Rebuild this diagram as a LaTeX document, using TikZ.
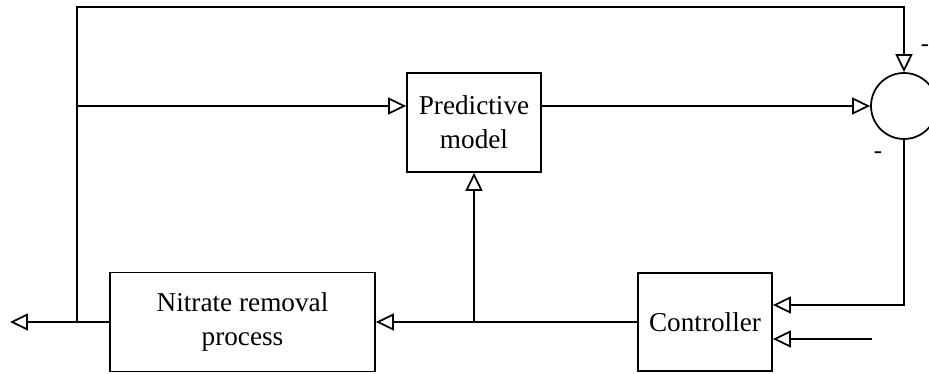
\documentclass[tikz,border=0pt]{standalone}
\usepackage{fontspec}
\setmainfont{Liberation Serif}
\usetikzlibrary{arrows.meta, positioning, calc}
\tikzset{
  block/.style={
    draw=black,
    line width=1pt,
    fill=white,
    align=center,
    inner sep=0pt,
    font=\fontsize{15.5}{19.5}\selectfont
  },
  sumnode/.style={
    draw=black,
    line width=1pt,
    circle,
    inner sep=0pt,
    minimum size=66*0.02cm
  },
  arrow/.style={-{Triangle[open, length=0.36cm, width=0.34cm, line width=1pt]}, line width=1pt, draw=black},
  line/.style={line width=1pt, draw=black},
  sign/.style={font=\fontsize{14}{16}\selectfont, inner sep=0pt}
}

\begin{document}
\begin{tikzpicture}[x=0.02cm,y=-0.02cm]
    \clip (0,0) rectangle (929,374);
    \node[block, minimum width=134*0.02cm, minimum height=99*0.02cm] (pred) at (474,122.5) {Predictive\\model};
    \node[block, minimum width=265*0.02cm, minimum height=99*0.02cm] (nitr) at (242.5,322) {Nitrate removal\\process};
    \node[block, minimum width=134*0.02cm, minimum height=98*0.02cm] (ctrl) at (705,322) {Controller};
    \node[sumnode] (sum) at (904,106) {};

    \coordinate (out) at (10,322);
    \coordinate (split) at (77,322);
    \coordinate (top) at (77,7);
    \coordinate (mid) at (77,106);
    \coordinate (fb) at (904,305);
    \coordinate (ref) at (872,339);

    % process output and feedback paths
    \draw[arrow] (nitr.west) -- (out);
    \draw[arrow] (split) -- (top) -| (sum.north);
    \draw[arrow] (mid) -- (pred.west |- mid);
    \draw[arrow] (pred.east |- sum.west) -- (sum.west);

    % error and setpoint into controller
    \draw[arrow] (sum.south) -- (fb) -- (ctrl.east |- fb);
    \draw[arrow] (ref) -- (ctrl.east |- ref);

    % control action
    \draw[arrow] (ctrl.west) -- (nitr.east);
    \draw[arrow] (pred.south |- ctrl.west) -- (pred.south);

    \node[sign] (s1) at (925,48) {-};
    \node[sign] (s2) at (878,155) {-};
  \end{tikzpicture}
\end{document}
